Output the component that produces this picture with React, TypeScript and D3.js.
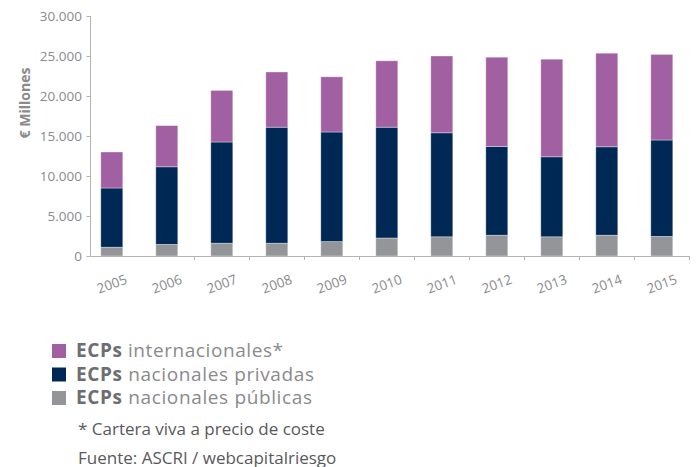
import React, { useRef, useEffect } from 'react'
import * as d3 from 'd3'

// años y series (millones de €)
const years = ['2005', '2006', '2007', '2008', '2009', '2010', '2011', '2012', '2013', '2014', '2015']
const publicas = [1100, 1450, 1600, 1600, 1800, 2250, 2400, 2600, 2400, 2600, 2450]
const privadas = [7400, 9700, 12650, 14500, 13700, 13850, 13000, 11100, 10000, 11050, 12050]
const internacionales = [4500, 5150, 6450, 6900, 6900, 8300, 9600, 11150, 12200, 11700, 10700]
const yTicks = [0, 5000, 10000, 15000, 20000, 25000, 30000]

const seriesKeys = ['publicas', 'privadas', 'internacionales']
const seriesColors = ['#939598', '#002855', '#A160A1']
const legendItems = [
  { color: '#A160A1', text: ' internacionales*', len: 207 },
  { color: '#002855', text: ' nacionales privadas', len: 238 },
  { color: '#939598', text: ' nacionales públicas', len: 236 }
]

const W = 696
const H = 467

const App: React.FC = () => {
  const svgRef = useRef<SVGSVGElement>(null)

  useEffect(() => {
    if (!svgRef.current) return
    const svg = d3.select(svgRef.current)
    svg.selectAll('*').remove()

    const font = '"Open Sans", sans-serif'
    const axisColor = '#b3b3b3'
    const textGrey = '#8a8a8d'

    const x = d3.scaleBand<string>()
      .domain(years)
      .range([84.3, 689.3])
      .paddingInner(0.6)
      .paddingOuter(0.3)

    const y = d3.scaleLinear()
      .domain([0, 30000])
      .range([256, 16])

    const fmt = d3.formatLocale({ decimal: ',', thousands: '.', grouping: [3], currency: ['', '€'] }).format(',')

    const rows = years.map((yr, i) => ({
      year: yr,
      publicas: publicas[i],
      privadas: privadas[i],
      internacionales: internacionales[i]
    }))

    const stacked = d3.stack<any>().keys(seriesKeys)(rows)

    // barras apiladas
    stacked.forEach((layer, li) => {
      svg.append('g')
        .selectAll('rect')
        .data(layer)
        .enter()
        .append('rect')
        .attr('x', d => x(d.data.year)!)
        .attr('y', d => y(d[1]))
        .attr('width', x.bandwidth())
        .attr('height', d => y(d[0]) - y(d[1]))
        .attr('fill', seriesColors[li])
        .attr('stroke', 'rgba(255,255,255,0.45)')
        .attr('stroke-width', 0.8)
    })

    // eje Y
    const x0 = 90.5
    svg.append('line')
      .attr('x1', x0).attr('x2', x0)
      .attr('y1', y(30000)).attr('y2', y(0))
      .attr('stroke', axisColor)
    const yt = svg.append('g')
    yTicks.forEach(t => {
      yt.append('line')
        .attr('x1', x0 - 4).attr('x2', x0)
        .attr('y1', y(t) + 0.5).attr('y2', y(t) + 0.5)
        .attr('stroke', axisColor)
      yt.append('text')
        .attr('x', 82)
        .attr('y', y(t))
        .attr('dy', '0.35em')
        .attr('text-anchor', 'end')
        .style('font-family', font)
        .style('font-size', '13.5px')
        .style('fill', textGrey)
        .text(fmt(t))
    })

    // eje X
    svg.append('line')
      .attr('x1', x0).attr('x2', 689.5)
      .attr('y1', y(0) + 0.5).attr('y2', y(0) + 0.5)
      .attr('stroke', axisColor)
    const step = x.step()
    // el reference no muestra marca entre 2005 y 2006
    years.forEach((yr, i) => {
      if (i < 1) return
      const bx = x(yr)! + x.bandwidth() / 2 + step / 2
      svg.append('line')
        .attr('x1', Math.round(bx) + 0.5).attr('x2', Math.round(bx) + 0.5)
        .attr('y1', y(0)).attr('y2', y(0) + 4)
        .attr('stroke', axisColor)
    })
    years.forEach(yr => {
      const cx = x(yr)! + x.bandwidth() / 2
      svg.append('text')
        .attr('transform', `translate(${cx},284) rotate(-20)`)
        .attr('text-anchor', 'middle')
        .attr('dy', '0.35em')
        .style('font-family', font)
        .style('font-size', '13.5px')
        .style('fill', textGrey)
        .text(yr)
    })

    // título eje Y
    svg.append('text')
      .attr('transform', 'translate(25,103) rotate(-90)')
      .attr('text-anchor', 'middle')
      .attr('dy', '0.35em')
      .style('font-family', font)
      .style('font-size', '14px')
      .style('font-weight', 'bold')
      .style('fill', textGrey)
      .text('€ Millones')

    // leyenda
    const legend = svg.append('g')
    legendItems.forEach((d, i) => {
      const by = 357 + i * 23.5
      legend.append('rect')
        .attr('x', 52).attr('y', by - 13)
        .attr('width', 14).attr('height', 14)
        .attr('fill', d.color)
      const t = legend.append('text')
        .attr('x', 76).attr('y', by)
        .attr('textLength', d.len)
        .attr('lengthAdjust', 'spacing')
        .style('font-family', font)
        .style('font-size', '19px')
      t.append('tspan')
        .style('font-weight', 'bold')
        .style('fill', '#6d6e71')
        .text('ECPs')
      t.append('tspan')
        .style('fill', textGrey)
        .text(d.text)
    })

    // notas
    const notes = ['* Cartera viva a precio de coste', 'Fuente: ASCRI / webcapitalriesgo']
    notes.forEach((n, i) => {
      svg.append('text')
        .attr('x', 78).attr('y', 434.5 + i * 29)
        .style('font-family', font)
        .style('font-size', '17px')
        .style('fill', '#58595b')
        .text(n)
    })
  }, [])

  return (
    <div style={{ position: 'absolute', left: 0, top: 0 }}>
      <svg ref={svgRef} width={W} height={H} style={{ display: 'block', background: '#fff' }} />
    </div>
  )
}

export default App
